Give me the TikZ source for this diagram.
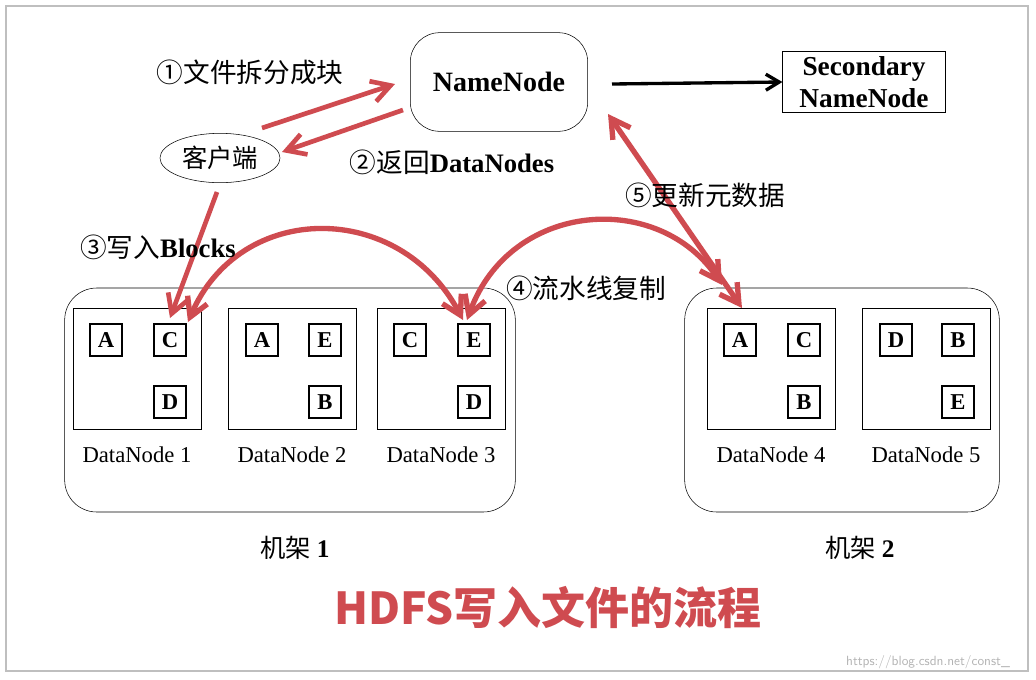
\documentclass[tikz,border=0pt]{standalone}
\usepackage{fontspec}
\setmainfont{Liberation Serif}
\newfontfamily\cjk{Noto Sans CJK SC}
\usetikzlibrary{arrows.meta,shapes.geometric}
\definecolor{hred}{RGB}{207,75,80}
\tikzset{
 blk/.style={draw,thick,minimum size=24pt,inner sep=0pt,font=\bfseries\fontsize{17}{17}\selectfont},
 dn/.style={draw,minimum width=96pt,minimum height=91pt},
 rack/.style={draw,rounded corners=24pt},
 ra/.style={hred,line width=3.5pt,-{Straight Barb[length=14pt,width=16pt]}},
 rab/.style={hred,line width=4pt,{Straight Barb[length=14pt,width=16pt]}-{Straight Barb[length=14pt,width=16pt]}},
 lab/.style={font=\cjk\fontsize{20}{20}\selectfont,inner sep=0pt},
 dnl/.style={font=\fontsize{17}{17}\selectfont}
}
\begin{document}
\begin{tikzpicture}[x=0.75pt,y=-0.75pt]
\useasboundingbox (0,0) rectangle (1036,679);
\draw[gray!50,line width=1pt] (6,6) rectangle (1028,671);
% NameNode
\node[draw,rounded corners=22pt,minimum width=133pt,minimum height=74pt,font=\bfseries\fontsize{21}{21}\selectfont] (nn) at (499,82) {NameNode};
\node[draw,align=center,minimum width=122pt,minimum height=46pt,inner sep=1pt,font=\bfseries\fontsize{20.5}{24}\selectfont] (snn) at (864,82) {Secondary\\NameNode};
\draw[line width=2.5pt,-{Straight Barb[length=10pt,width=12pt]}] (612,84) -- (snn.west);
% client
\node[draw,ellipse,minimum width=90pt,minimum height=37pt,font=\cjk\fontsize{19}{19}\selectfont] (cl) at (220,158) {客户端};
% racks
\node[rack,minimum width=338pt,minimum height=168pt] (r1) at (290,400) {};
\node[rack,minimum width=236pt,minimum height=168pt] (r2) at (842,400) {};
% datanodes
\foreach \n/\x in {1/137,2/292,3/441,4/771,5/926}{
 \node[dn] (d\n) at (\x,369) {};
 \node[dnl] (l\n) at (\x,455) {DataNode \n};
}
\node[blk] (b1a) at (106,340) {A}; \node[blk] (b1c) at (170,340) {C}; \node[blk] (b1d) at (170,402) {D};
\node[blk] (b2a) at (262,340) {A}; \node[blk] (b2e) at (325,340) {E}; \node[blk] (b2b) at (325,402) {B};
\node[blk] (b3c) at (410,340) {C}; \node[blk] (b3e) at (474,340) {E}; \node[blk] (b3d) at (474,402) {D};
\node[blk] (b4a) at (740,340) {A}; \node[blk] (b4c) at (804,340) {C}; \node[blk] (b4b) at (804,402) {B};
\node[blk] (b5d) at (896,340) {D}; \node[blk] (b5b) at (958,340) {B}; \node[blk] (b5e) at (958,402) {E};
% rack labels
\node[font=\cjk\fontsize{19}{19}\selectfont] (rl1) at (295,548) {机架 \textbf{\rmfamily 1}};
\node[font=\cjk\fontsize{19}{19}\selectfont] (rl2) at (860,548) {机架 \textbf{\rmfamily 2}};
% coordinates
\coordinate (c1s) at (262,128); \coordinate (c1e) at (395,84);
\coordinate (c2s) at (403,110); \coordinate (c2e) at (282,152);
\coordinate (c3s) at (217,192); \coordinate (c3e) at (170,318);
\coordinate (a1l) at (188,322); \coordinate (a1r) at (463,320);
\coordinate (a2l) at (467,320); \coordinate (a2r) at (722,285);
\coordinate (a5s) at (608,114); \coordinate (a5e) at (742,308);
% red arrows
\draw[ra] (c1s) -- (c1e);
\draw[ra] (c2s) -- (c2e);
\draw[ra] (c3s) -- (c3e);
\draw[rab] (a1l) .. controls (240,200) and (400,200) .. (a1r);
\draw[rab] (a2l) .. controls (510,200) and (660,190) .. (a2r);
\draw[rab] (a5s) -- (a5e);
% labels
\node[lab] (t1) at (250,72) {①文件拆分成块};
\node[lab] (t2) at (452,162) {②返回\textbf{\rmfamily DataNodes}};
\node[lab] (t3) at (158,247) {③写入\textbf{\rmfamily Blocks}};
\node[lab] (t4) at (586,288) {④流水线复制};
\node[lab] (t5) at (705,195) {⑤更新元数据};
% title
\node[font=\cjk\bfseries\fontsize{33}{33}\selectfont,text=hred] (title) at (548,607) {HDFS写入文件的流程};
\node[font=\sffamily\fontsize{10}{10}\selectfont,text=gray!60] (wm) at (928,662) {https://blog.csdn.net/const\_};
\end{tikzpicture}
\end{document}
